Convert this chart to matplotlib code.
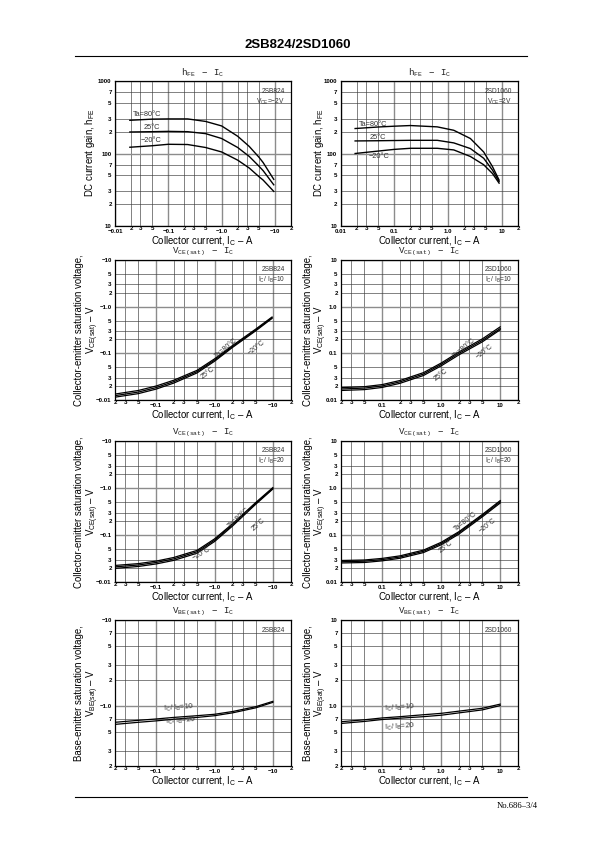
import matplotlib
matplotlib.use('Agg')
import matplotlib.pyplot as plt
from matplotlib.ticker import FixedLocator, FixedFormatter
from matplotlib.lines import Line2D

plt.rcParams['font.family'] = ['Liberation Sans', 'DejaVu Sans']
plt.rcParams['mathtext.fontset'] = 'custom'
plt.rcParams['mathtext.rm'] = 'Liberation Sans'
plt.rcParams['mathtext.it'] = 'Liberation Sans'
plt.rcParams['mathtext.tt'] = 'Liberation Mono'
plt.rcParams['mathtext.default'] = 'regular'

W, H = 595, 842

# ---------------- data (|I_C| in A) ----------------
# hFE - IC, 2SB824 (VCE = -2V)
hfe_b_ic = [0.019, 0.05, 0.1, 0.23, 0.5, 1.0, 2.0, 3.3, 5.0, 6.0, 9.5]
hfe_b_80 = [287, 298, 300, 300, 277, 240, 173, 125, 89, 75, 44]
hfe_b_25 = [198, 200, 202, 200, 188, 161, 121, 91, 67, 58, 37]
hfe_b_m20 = [122, 128, 134, 133, 121, 105, 81, 63, 48, 43, 30]

# hFE - IC, 2SD1060 (VCE = 2V)
hfe_d_ic = [0.0187, 0.05, 0.1, 0.2, 0.63, 1.28, 2.6, 4.6, 6.7, 8.9]
hfe_d_80 = [221, 232, 238, 243, 233, 209, 161, 105, 66, 43]
hfe_d_25 = [149, 150, 151, 152, 152, 140, 117, 86, 59, 41]
hfe_d_m20 = [100, 108, 114, 118, 118, 112, 91, 70, 53, 39]

# VCE(sat) - IC, 2SB824, IC/IB = 10
vce10_b_ic = [0.02, 0.05, 0.1, 0.2, 0.5, 1.0, 2.0, 5.0, 9.5]
vce10_b_80 = [0.0134, 0.0160, 0.0199, 0.0265, 0.0432, 0.0765, 0.146, 0.330, 0.60]
vce10_b_25 = [0.0124, 0.0148, 0.0184, 0.0247, 0.0405, 0.072, 0.139, 0.316, 0.58]
vce10_b_m20 = [0.0115, 0.0137, 0.0171, 0.0230, 0.0380, 0.0680, 0.133, 0.303, 0.56]

# VCE(sat) - IC, 2SD1060, IC/IB = 10
vce10_d_ic = [0.02, 0.05, 0.1, 0.2, 0.5, 1.0, 2.0, 5.0, 10.0]
vce10_d_80 = [0.0184, 0.0193, 0.0214, 0.0262, 0.0386, 0.062, 0.107, 0.205, 0.37]
vce10_d_25 = [0.0172, 0.0180, 0.0200, 0.0245, 0.0360, 0.058, 0.100, 0.190, 0.34]
vce10_d_m20 = [0.0160, 0.0167, 0.0186, 0.0228, 0.0335, 0.054, 0.093, 0.177, 0.32]

# VCE(sat) - IC, 2SB824, IC/IB = 20
vce20_b_ic = [0.02, 0.05, 0.1, 0.2, 0.5, 1.0, 2.0, 5.0, 9.8]
vce20_b_80 = [0.0225, 0.0246, 0.0278, 0.0332, 0.047, 0.083, 0.172, 0.49, 1.02]
vce20_b_25 = [0.0210, 0.0230, 0.0260, 0.0310, 0.044, 0.078, 0.163, 0.47, 0.98]
vce20_b_m20 = [0.0195, 0.0214, 0.0242, 0.0288, 0.041, 0.073, 0.154, 0.45, 0.95]

# VCE(sat) - IC, 2SD1060, IC/IB = 20
vce20_d_ic = [0.02, 0.05, 0.1, 0.2, 0.5, 1.0, 2.0, 5.0, 10.0]
vce20_d_80 = [0.0287, 0.0294, 0.0318, 0.036, 0.0477, 0.070, 0.118, 0.275, 0.54]
vce20_d_25 = [0.0270, 0.0277, 0.0300, 0.034, 0.0450, 0.066, 0.112, 0.260, 0.51]
vce20_d_m20 = [0.0254, 0.0260, 0.0282, 0.032, 0.0423, 0.062, 0.105, 0.245, 0.48]

# VBE(sat) - IC, 2SB824
vbe_b_ic = [0.02, 0.05, 0.1, 0.2, 0.5, 1.0, 2.0, 5.0, 9.8]
vbe_b_10 = [0.645, 0.68, 0.705, 0.735, 0.77, 0.80, 0.86, 0.98, 1.13]
vbe_b_20 = [0.61, 0.645, 0.67, 0.70, 0.735, 0.77, 0.83, 0.95, 1.10]

# VBE(sat) - IC, 2SD1060
vbe_d_ic = [0.02, 0.05, 0.1, 0.2, 0.5, 1.0, 2.0, 5.0, 10.0]
vbe_d_10 = [0.655, 0.69, 0.725, 0.75, 0.79, 0.82, 0.87, 0.94, 1.05]
vbe_d_20 = [0.625, 0.66, 0.695, 0.72, 0.75, 0.78, 0.83, 0.90, 1.01]

# ---------------- tick labels ----------------
x_dec_b = ['\u22120.01', '\u22120.1', '\u22121.0', '\u221210']
x_dec_d = ['0.01', '0.1', '1.0', '10']
x_min_lab = ['2', '3', '5', '2', '3', '5', '2', '3', '5', '2', '3', '5', '2']
hfe_y_dec = ['10', '100', '1000']
hfe_y_min = ['2', '3', '5', '7', '2', '3', '5', '7']
vce_y_dec_b = ['\u22120.01', '\u22120.1', '\u22121.0', '\u221210']
vce_y_dec_d = ['0.01', '0.1', '1.0', '10']
vce_y_min = ['2', '3', '5', '2', '3', '5', '2', '3', '5']
vbe_y_dec_b = ['\u22121.0', '\u221210']
vbe_y_dec_d = ['1.0', '10']
vbe_y_min = ['2', '3', '5', '7', '2', '3', '5', '7']

temps = ['Ta=80\u00b0C', '25\u00b0C', '\u221220\u00b0C']
ratio_labels = ['$I_C$/ $I_B$=10', '$I_C$/ $I_B$=20']
titles = [r'$\mathtt{h_{FE}\ \ -\ \ I_C}$',
          r'$\mathtt{V_{CE(sat)}\ \ -\ \ I_C}$',
          r'$\mathtt{V_{BE(sat)}\ \ -\ \ I_C}$']

X_DEC = [0.01, 0.1, 1.0, 10.0]
X_MIN = [0.002, 0.003, 0.005, 0.02, 0.03, 0.05, 0.2, 0.3, 0.5, 2, 3, 5, 20]
HFE_DEC = [10, 100, 1000]
HFE_MIN = [20, 30, 50, 70, 200, 300, 500, 700]
VCE_DEC = [0.01, 0.1, 1.0, 10.0]
VCE_MIN = [0.02, 0.03, 0.05, 0.2, 0.3, 0.5, 2, 3, 5]
VBE_DEC = [1.0, 10.0]
VBE_MIN = [0.2, 0.3, 0.5, 0.7, 2, 3, 5, 7]

fig = plt.figure(figsize=(W / 100, H / 100), dpi=100)


def box(l, t, r, b):
    return [l / W, 1 - b / H, (r - l) / W, (b - t) / H]


def setup(ax, xlim, ylim, xdec, xdec_lab, ydec, ydec_lab, ymin, ymin_lab):
    ax.set_xscale('log')
    ax.set_yscale('log')
    ax.set_xlim(*xlim)
    ax.set_ylim(*ylim)
    ax.xaxis.set_major_locator(FixedLocator(xdec))
    ax.xaxis.set_major_formatter(FixedFormatter(xdec_lab))
    ax.xaxis.set_minor_locator(FixedLocator(X_MIN))
    ax.xaxis.set_minor_formatter(FixedFormatter(x_min_lab))
    ax.yaxis.set_major_locator(FixedLocator(ydec))
    ax.yaxis.set_major_formatter(FixedFormatter(ydec_lab))
    ax.yaxis.set_minor_locator(FixedLocator(ymin))
    ax.yaxis.set_minor_formatter(FixedFormatter(ymin_lab))
    ax.tick_params(which='both', length=0, labelsize=4.4)
    ax.tick_params(axis='x', which='major', pad=2.2)
    ax.tick_params(axis='x', which='minor', pad=-0.2)
    ax.tick_params(axis='y', which='both', pad=2.4)
    for lab in ax.get_xticklabels(which='both') + ax.get_yticklabels(which='both'):
        lab.set_fontweight('bold')
    ax.grid(which='major', color='#8c8c8c', lw=1.0)
    ax.grid(which='minor', color='#3c3c3c', lw=0.45)
    for s in ax.spines.values():
        s.set_linewidth(0.9)
    ax.set_axisbelow(True)


def title(ax, txt):
    ax.annotate(txt, xy=(0.5, 1.0), xycoords='axes fraction', xytext=(0, 5.6),
                textcoords='offset points', ha='center', va='center',
                fontsize=6.6, color='#222')


def xlab(ax):
    ax.set_xlabel('Collector current, $I_C$ \u2013 A', fontsize=6.9, labelpad=0.0)


def info(ax, lines):
    for i, t in enumerate(lines):
        ax.text(0.965, 0.955 - i * 0.062, t, transform=ax.transAxes, ha='right', va='top',
                fontsize=4.8, color='#333')


def ylab(x, y, txt):
    fig.text(x / W, 1 - y / H, txt, rotation=90, ha='center', va='center', fontsize=6.9)


def ylab2(x1, x2, y, line1, line2):
    ylab(x1, y, line1)
    ylab(x2, y, line2)


L1, L2 = 79.5, 92.5      # left-column y-label lines (px)
R1, R2 = 307.5, 320.5    # right-column y-label lines (px)

# ---------- Row 1: hFE ----------
ax1 = fig.add_axes(box(115, 81, 291, 226))
setup(ax1, (0.01, 20), (10, 1000), X_DEC, x_dec_b, HFE_DEC, hfe_y_dec, HFE_MIN, hfe_y_min)
for ys in (hfe_b_80, hfe_b_25, hfe_b_m20):
    ax1.plot(hfe_b_ic, ys, color='black', lw=1.0)
title(ax1, titles[0])
xlab(ax1)
info(ax1, ['2SB824', '$V_{CE}$=\u22122V'])
ax1.text(0.022, 330, temps[0], fontsize=5.3, color='#333')
ax1.text(0.035, 215, temps[1], fontsize=5.3, color='#333')
ax1.text(0.03, 142, temps[2], fontsize=5.3, color='#333')
ylab(90, 153, 'DC current gain, $h_{FE}$')

ax2 = fig.add_axes(box(340.5, 81, 518, 226))
setup(ax2, (0.01, 20), (10, 1000), X_DEC, x_dec_d, HFE_DEC, hfe_y_dec, HFE_MIN, hfe_y_min)
for ys in (hfe_d_80, hfe_d_25, hfe_d_m20):
    ax2.plot(hfe_d_ic, ys, color='black', lw=1.0)
title(ax2, titles[0])
xlab(ax2)
info(ax2, ['2SD1060', '$V_{CE}$=2V'])
ax2.text(0.022, 243, temps[0], fontsize=5.3, color='#333')
ax2.text(0.035, 160, temps[1], fontsize=5.3, color='#333')
ax2.text(0.033, 86, temps[2], fontsize=5.3, color='#333')
ylab(319, 153, 'DC current gain, $h_{FE}$')

# ---------- Rows 2 & 3: VCE(sat) ----------
vce_sets = [
    (box(115, 260, 291, 400), vce10_b_ic, (vce10_b_80, vce10_b_25, vce10_b_m20), True,
     ['2SB824', ratio_labels[0]], (L1, L2), 330,
     [(1.6, 0.13, temps[0], 40), (5.2, 0.135, temps[2], 38), (0.75, 0.038, temps[1], 38)]),
    (box(341, 260, 518, 400), vce10_d_ic, (vce10_d_80, vce10_d_25, vce10_d_m20), False,
     ['2SD1060', ratio_labels[0]], (R1, R2), 330,
     [(2.5, 0.13, temps[0], 40), (5.5, 0.11, temps[2], 38), (1.0, 0.035, temps[1], 38)]),
    (box(115, 441, 291, 582), vce20_b_ic, (vce20_b_80, vce20_b_25, vce20_b_m20), True,
     ['2SB824', ratio_labels[1]], (L1, L2), 512,
     [(2.6, 0.23, temps[0], 42), (5.5, 0.17, temps[1], 42), (0.6, 0.04, temps[2], 30)]),
    (box(341, 441, 518, 582), vce20_d_ic, (vce20_d_80, vce20_d_25, vce20_d_m20), False,
     ['2SD1060', ratio_labels[1]], (R1, R2), 512,
     [(2.6, 0.19, temps[0], 38), (6.0, 0.16, temps[2], 38), (1.2, 0.055, temps[1], 38)]),
]
for bx, xs, curves, neg, inf, lxs, ly, labels in vce_sets:
    ax = fig.add_axes(bx)
    setup(ax, (0.02, 20), (0.01, 10), X_DEC, x_dec_b if neg else x_dec_d,
          VCE_DEC, vce_y_dec_b if neg else vce_y_dec_d, VCE_MIN, vce_y_min)
    for ys in curves:
        ax.plot(xs, ys, color='black', lw=0.9)
    title(ax, titles[1])
    xlab(ax)
    info(ax, inf)
    for (tx, ty, t, rot) in labels:
        ax.text(tx, ty, t, fontsize=5.0, rotation=rot, ha='center', va='center', color='#333')
    ylab2(lxs[0], lxs[1], ly, 'Collector-emitter saturation voltage,',
          '$V_{CE(sat)}$ \u2013 V')

# ---------- Row 4: VBE(sat) ----------
ax7 = fig.add_axes(box(115, 620, 291, 766))
setup(ax7, (0.02, 20), (0.2, 10), X_DEC, x_dec_b, VBE_DEC, vbe_y_dec_b, VBE_MIN, vbe_y_min)
ax7.plot(vbe_b_ic, vbe_b_10, color='black', lw=0.9)
ax7.plot(vbe_b_ic, vbe_b_20, color='black', lw=0.9)
title(ax7, titles[2])
xlab(ax7)
info(ax7, ['2SB824'])
ax7.text(0.24, 0.95, ratio_labels[0], fontsize=5.3, ha='center', va='center', color='#333', rotation=4)
ax7.text(0.26, 0.665, ratio_labels[1], fontsize=5.3, ha='center', va='center', color='#333', rotation=4)
ylab2(L1, L2, 693, 'Base-emitter saturation voltage,', '$V_{BE(sat)}$ \u2013 V')

ax8 = fig.add_axes(box(341, 620, 518, 766))
setup(ax8, (0.02, 20), (0.2, 10), X_DEC, x_dec_d, VBE_DEC, vbe_y_dec_d, VBE_MIN, vbe_y_min)
ax8.plot(vbe_d_ic, vbe_d_10, color='black', lw=0.9)
ax8.plot(vbe_d_ic, vbe_d_20, color='black', lw=0.9)
title(ax8, titles[2])
xlab(ax8)
info(ax8, ['2SD1060'])
ax8.text(0.2, 0.95, ratio_labels[0], fontsize=5.3, ha='center', va='center', color='#333', rotation=4)
ax8.text(0.2, 0.575, ratio_labels[1], fontsize=5.3, ha='center', va='center', color='#333', rotation=4)
ylab2(R1, R2, 693, 'Base-emitter saturation voltage,', '$V_{BE(sat)}$ \u2013 V')

# ---------- page header / footer ----------
fig.text(298 / W, 1 - 45 / H, '2SB824/2SD1060', ha='center', va='center',
         fontsize=9.5, fontweight='bold')
fig.add_artist(Line2D([75 / W, 527 / W], [1 - 56 / H, 1 - 56 / H], color='black', lw=0.8))
fig.add_artist(Line2D([75 / W, 527 / W], [1 - 797 / H, 1 - 797 / H], color='black', lw=0.8))
fig.text(538 / W, 1 - 806 / H, 'No.686\u20133/4', ha='right', va='center',
         fontsize=6.2, family=['Liberation Serif', 'DejaVu Serif'])

fig.savefig('out.png', dpi=100)
